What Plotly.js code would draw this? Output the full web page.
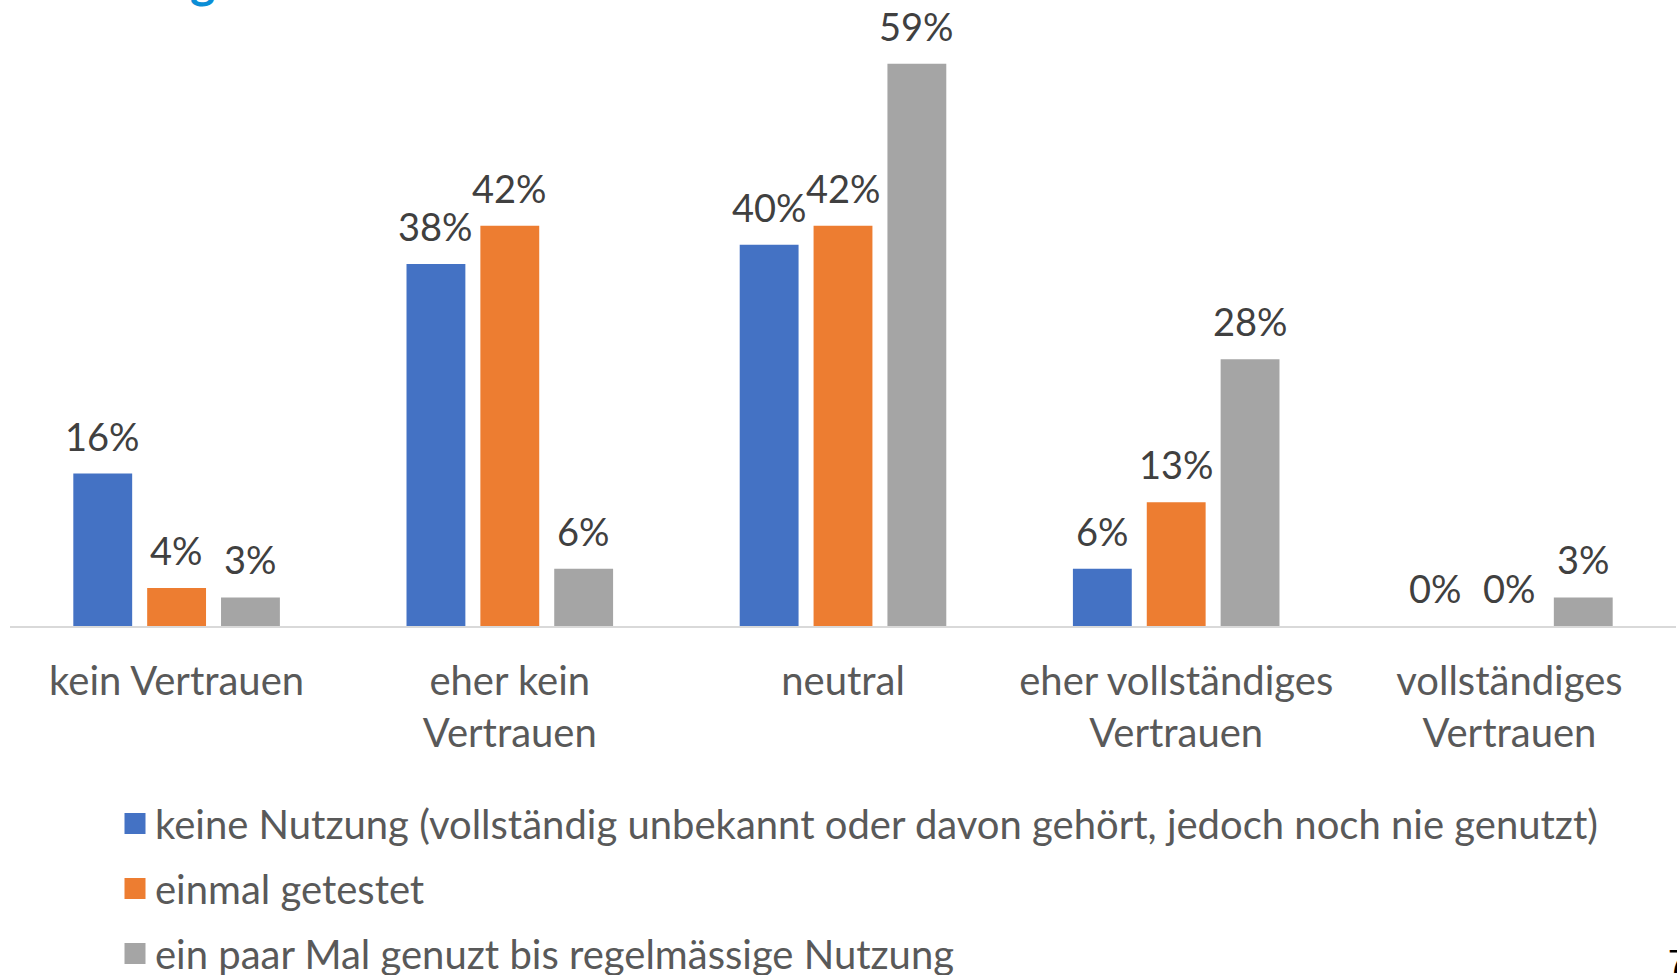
<!DOCTYPE html>
<html>
<head>
<meta charset="utf-8">
<script src="https://cdn.plot.ly/plotly-3.0.1.min.js"></script>
<style>
  html, body { margin: 0; padding: 0; background: #ffffff; }
  #chart { width: 1677px; height: 975px; }
</style>
</head>
<body>
<div id="chart"></div>
<script>
// ---- data ----
const categories = ['kein Vertrauen', 'eher kein Vertrauen', 'neutral', 'eher vollständiges Vertrauen', 'vollständiges Vertrauen'];
const tickLabels = ['kein Vertrauen', 'eher kein<br>Vertrauen', 'neutral', 'eher vollständiges<br>Vertrauen', 'vollständiges<br>Vertrauen'];
const seriesNames = [
  'keine Nutzung (vollständig unbekannt oder davon gehört, jedoch noch nie genutzt)',
  'einmal getestet',
  'ein paar Mal genuzt bis regelmässige Nutzung'
];
const keineNutzung = [16, 38, 40, 6, 0];
const einmalGetestet = [4, 42, 42, 13, 0];
const regelmaessig = [3, 6, 59, 28, 3];
const seriesValues = [keineNutzung, einmalGetestet, regelmaessig];
const seriesColors = ['#4472C4', '#ED7D31', '#A5A5A5'];

// ---- layout constants ----
const W = 1677, H = 975;
const M = {l: 10, r: 1, t: 20, b: 349};
const BARGAP = 0.335, BARGROUPGAP = 0.203;
const FONT = 'Lato, "Open Sans", sans-serif';
const FS_LABEL = 38;
const FS_TEXT = 40;
const plotW = W - M.l - M.r;
const slotPx = plotW / categories.length * (1 - BARGAP) / seriesValues.length;

const traces = [];
seriesValues.forEach((vals, i) => {
  traces.push({
    type: 'bar',
    name: seriesNames[i],
    x: categories,
    y: vals,
    marker: {color: seriesColors[i]},
    showlegend: false,
    hoverinfo: 'skip'
  });
});
// legend entries (larger square swatches)
seriesValues.forEach((vals, i) => {
  traces.push({
    type: 'scatter',
    mode: 'markers',
    name: seriesNames[i],
    legendgroup: 'g' + i,
    x: [null], y: [null],
    marker: {symbol: 'square', size: 16, color: seriesColors[i], line: {width: 5, color: seriesColors[i]}},
    showlegend: true,
    hoverinfo: 'skip'
  });
});

const annotations = [];
seriesValues.forEach((vals, i) => {
  vals.forEach((v, j) => {
    annotations.push({
      x: categories[j], y: v, xref: 'x', yref: 'y',
      text: v + '%',
      showarrow: false,
      xanchor: 'center', yanchor: 'middle',
      xshift: (i - 1) * slotPx,
      yshift: 38,
      font: {family: FONT, size: FS_LABEL, color: '#404040'}
    });
  });
});
// partially visible slide title and page number
annotations.push({
  xref: 'paper', yref: 'paper', x: (202 - M.l) / plotW, y: 1 + (M.t - 10) / (H - M.t - M.b),
  xanchor: 'center', yanchor: 'bottom', showarrow: false,
  text: '<b>g</b>', font: {family: FONT, size: 48, color: '#0B8ED6'}
});
annotations.push({
  xref: 'paper', yref: 'paper', x: 1, y: -(961 - (H - M.b)) / (H - M.t - M.b),
  xanchor: 'left', yanchor: 'middle', xshift: -10, showarrow: false,
  text: '7', font: {family: '"Liberation Sans", Arial, sans-serif', size: 34, color: '#000000'}
});

const layout = {
  width: W, height: H,
  margin: M,
  paper_bgcolor: '#ffffff', plot_bgcolor: '#ffffff',
  barmode: 'group', bargap: BARGAP, bargroupgap: BARGROUPGAP,
  font: {family: FONT, size: FS_TEXT, color: '#595959'},
  xaxis: {
    type: 'category',
    categoryorder: 'array', categoryarray: categories,
    tickvals: categories, ticktext: tickLabels,
    showline: true, linecolor: '#D9D9D9', linewidth: 2,
    ticks: '', showgrid: false, zeroline: false,
    tickfont: {family: FONT, size: FS_TEXT, color: '#595959'},
    ticklabelstandoff: 19,
    fixedrange: true
  },
  yaxis: {
    range: [0, 63.6], visible: false, showgrid: false, zeroline: false, fixedrange: true
  },
  showlegend: true,
  legend: {
    orientation: 'v', traceorder: 'grouped', tracegroupgap: 10,
    x: (115 - M.l) / plotW, xanchor: 'left',
    yref: 'container', y: 1 - 791 / H, yanchor: 'top',
    font: {family: FONT, size: FS_TEXT, color: '#595959'},
    bgcolor: 'rgba(0,0,0,0)', borderwidth: 0
  },
  annotations: annotations
};

Plotly.newPlot('chart', traces, layout, {displayModeBar: false, staticPlot: true});
</script>
</body>
</html>
